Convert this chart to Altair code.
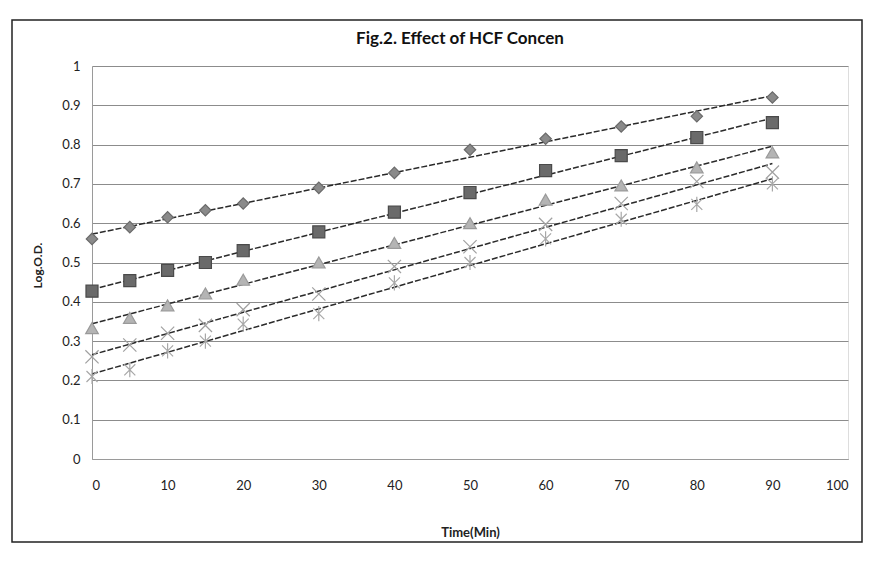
import altair as alt
import pandas as pd

# Time points (min)
times = [0, 5, 10, 15, 20, 30, 40, 50, 60, 70, 80, 90]

# Log O.D. values (five HCF concentrations)
s1_diamond = [0.56, 0.59, 0.615, 0.633, 0.65, 0.69, 0.728, 0.787, 0.815, 0.846, 0.872, 0.92]
s2_square = [0.427, 0.454, 0.48, 0.50, 0.53, 0.578, 0.628, 0.678, 0.734, 0.772, 0.818, 0.856]
s3_triangle = [0.333, 0.359, 0.391, 0.421, 0.456, 0.50, 0.55, 0.60, 0.66, 0.696, 0.742, 0.78]
s4_cross = [0.26, 0.29, 0.32, 0.34, 0.38, 0.42, 0.49, 0.54, 0.597, 0.65, 0.706, 0.73]
s5_star = [0.21, 0.227, 0.275, 0.30, 0.343, 0.37, 0.448, 0.50, 0.56, 0.61, 0.648, 0.70]

series_names = ["S1", "S2", "S3", "S4", "S5"]
series_values = [s1_diamond, s2_square, s3_triangle, s4_cross, s5_star]

y_ticks = [0, 0.1, 0.2, 0.3, 0.4, 0.5, 0.6, 0.7, 0.8, 0.9, 1]
x_ticks = [0, 10, 20, 30, 40, 50, 60, 70, 80, 90, 100]

rows = []
for name, vals in zip(series_names, series_values):
    for t, v in zip(times, vals):
        rows.append({"series": name, "t": t, "v": v})
df = pd.DataFrame(rows)

FONT = "Lato"
X_PATH = "M-1,-1L1,1M-1,1L1,-1"
STAR_PATH = "M-0.8,-0.8L0.8,0.8M-0.8,0.8L0.8,-0.8M0,-1.1L0,1.1"

x_enc = alt.X("t:Q", scale=alt.Scale(domain=[0, 100], nice=False),
              axis=alt.Axis(values=x_ticks, title="Time(Min)", grid=False, ticks=False,
                            labelOverlap=False,
                            labelPadding=20, labelFontSize=13, labelFont=FONT,
                            titleFont=FONT, titleFontSize=13, titleFontWeight="bold",
                            titleY=73, titleBaseline="middle",
                            domainColor="#9a9a9a", labelColor="#222", titleColor="#222"))
y_enc = alt.Y("v:Q", scale=alt.Scale(domain=[0, 1], nice=False),
              axis=alt.Axis(values=y_ticks, format=".1~f", title="Log.O.D.", grid=True,
                            labelOverlap=False,
                            gridColor="#8c8c8c", gridWidth=1, ticks=False,
                            labelPadding=12, labelFontSize=13, labelFont=FONT,
                            titleFont=FONT, titleFontSize=12, titleFontWeight="bold",
                            titleX=-55, titleY=199, titleAngle=-90, titleBaseline="middle",
                            titleAlign="center",
                            domainColor="#9a9a9a", labelColor="#222", titleColor="#222"))

base = alt.Chart(df)

points = base.mark_point(opacity=1, fillOpacity=1, strokeWidth=1.2).encode(
    x=x_enc, y=y_enc,
    shape=alt.Shape("series:N", scale=alt.Scale(
        domain=series_names,
        range=["diamond", "square", "triangle-up", X_PATH, STAR_PATH]), legend=None),
    fill=alt.Fill("series:N", scale=alt.Scale(
        domain=series_names,
        range=["#8a8a8a", "#6a6a6a", "#b4b4b4", "transparent", "transparent"]), legend=None),
    stroke=alt.Stroke("series:N", scale=alt.Scale(
        domain=series_names,
        range=["#6a6a6a", "#4a4a4a", "#9a9a9a", "#a0a0a0", "#a8a8a8"]), legend=None),
    size=alt.Size("series:N", scale=alt.Scale(
        domain=series_names, range=[130, 190, 120, 110, 110]), legend=None),
)

trend = base.transform_regression("t", "v", groupby=["series"]).mark_line(
    color="#2a2a2a", strokeWidth=1.5, strokeDash=[6, 2]
).encode(x=x_enc, y=y_enc, detail="series:N")

frame = alt.Chart(alt.Data(values=[{}])).mark_rect(
    fill=None, stroke="#222", strokeWidth=1.5
).encode(x=alt.value(-80), x2=alt.value(770), y=alt.value(-46), y2=alt.value(476))

chart = alt.layer(trend, points, frame).properties(
    width=756, height=393,
    title=alt.TitleParams("Fig.2. Effect of HCF Concen", font=FONT, fontSize=17,
                          fontWeight="bold", color="#111", anchor="middle",
                          baseline="bottom", offset=0, dy=46, dx=-10),
    autosize=alt.AutoSizeParams(type="none"),
    padding={"left": 84, "top": 58, "right": 16, "bottom": 86},
).configure_view(stroke=None).configure(background="white")

chart.save("out.html", embed_options={"renderer": "svg", "actions": False})
